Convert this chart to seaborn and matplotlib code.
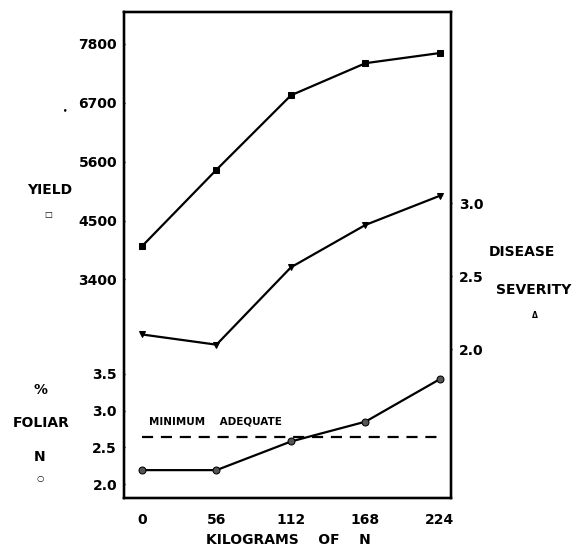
import matplotlib
matplotlib.use("Agg")
import matplotlib.pyplot as plt
import seaborn as sns
import pandas as pd

# 数据
kg_n = [0, 56, 112, 168, 224]
yield_vals = [4020, 5450, 6840, 7440, 7630]
disease_vals = [2.10, 2.03, 2.56, 2.85, 3.05]
foliar_vals = [2.19, 2.19, 2.58, 2.85, 3.43]
min_adequate = 2.64

yield_ticks = [3400, 4500, 5600, 6700, 7800]
disease_ticks = [2.0, 2.5, 3.0]
foliar_ticks = [2.0, 2.5, 3.0, 3.5]

df = pd.DataFrame({"kg": kg_n, "yield": yield_vals,
                   "disease": disease_vals, "foliar": foliar_vals})

sns.set_style("white")
plt.rcParams['font.family'] = ['DejaVu Sans']
plt.rcParams['font.weight'] = 'bold'
plt.rcParams['text.color'] = 'black'

fig = plt.figure(figsize=(5.76, 5.48), dpi=100)
ax = fig.add_axes([0.2153, 0.0912, 0.5677, 0.8869])
ax2 = ax.twinx()   # 病害严重度（右）
ax3 = ax.twinx()   # 叶片N（左下）

line_kw = dict(color='black', linewidth=1.6, markeredgecolor='black')
sns.lineplot(data=df, x="kg", y="yield", ax=ax, marker='s', markersize=5,
             markerfacecolor='black', **line_kw)
sns.lineplot(data=df, x="kg", y="disease", ax=ax2, marker='v', markersize=5,
             markerfacecolor='black', **line_kw)
sns.lineplot(data=df, x="kg", y="foliar", ax=ax3, marker='o', markersize=5,
             markerfacecolor='#555555', **line_kw)
ax3.hlines(min_adequate, 0, 224, colors='black', linestyles=(0, (5, 3.5)), linewidth=1.6)
ax3.text(5, 2.79, "MINIMUM    ADEQUATE", fontsize=7.5, fontweight='bold',
         ha='left', va='bottom', color='black')

ax.set_xlim(-13.5, 232.3)
ax.set_ylim(-682, 8396)
ax2.set_ylim(0.98, 4.308)
ax3.set_ylim(1.81, 8.43)

ax.set_xticks(kg_n)
ax.set_xticklabels([str(k) for k in kg_n])
ax.set_yticks(yield_ticks)
ax2.set_yticks(disease_ticks)
ax3.set_yticks(foliar_ticks)
ax3.yaxis.set_ticks_position('left')
ax3.yaxis.set_label_position('left')

for a in (ax, ax2, ax3):
    a.set_xlabel("")
    a.set_ylabel("")
    a.tick_params(length=2, width=1, direction='inout', labelsize=10, pad=4, colors='black')
    for s in a.spines.values():
        s.set_color('black')
        s.set_linewidth(1.6)
    for lab in a.get_xticklabels() + a.get_yticklabels():
        lab.set_fontweight('bold')
ax.tick_params(axis='x', pad=10)
ax2.tick_params(axis='y', pad=5)

# 轴标签文字
lab_kw = dict(fontsize=10, fontweight='bold', ha='center', va='center', color='black')
fig.text(50 / 576, 1 - 190 / 548, "YIELD", **lab_kw)
fig.text(48 / 576, 1 - 215 / 548, "\u25a1", fontsize=6, ha='center', va='center', color='black')
fig.text(65 / 576, 1 - 110 / 548, "\u2022", fontsize=5, ha='center', va='center', color='black')
fig.text(522 / 576, 1 - 252 / 548, "DISEASE", **lab_kw)
fig.text(534 / 576, 1 - 290 / 548, "SEVERITY", **lab_kw)
fig.text(535 / 576, 1 - 316 / 548, "\u0394", fontsize=5.5, ha='center', va='center', color='black')
fig.text(40 / 576, 1 - 390 / 548, "%", **lab_kw)
fig.text(41 / 576, 1 - 423 / 548, "FOLIAR", **lab_kw)
fig.text(40 / 576, 1 - 457 / 548, "N", **lab_kw)
fig.text(40 / 576, 1 - 478 / 548, "\u25cb", fontsize=6, ha='center', va='center', color='black')
fig.text(288 / 576, 1 - 540 / 548, "KILOGRAMS    OF    N", **lab_kw)

fig.savefig("out.png", dpi=100)
